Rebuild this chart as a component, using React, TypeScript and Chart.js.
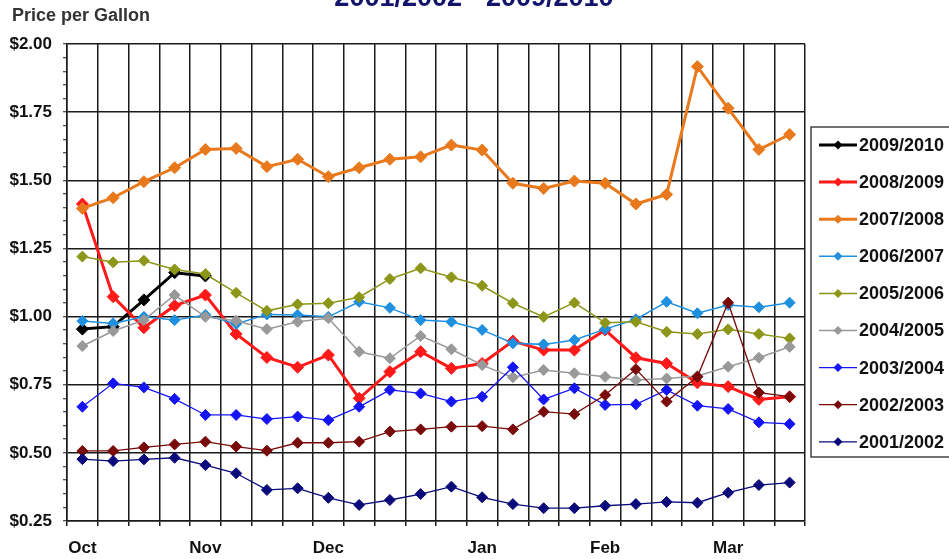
import React, { useEffect, useRef } from 'react';
import { Chart, registerables } from 'chart.js';

Chart.register(...registerables);

const weeks = ['Oct', '', '', '', 'Nov', '', '', '', 'Dec', '', '', '', '', 'Jan', '', '', '', 'Feb', '', '', '', 'Mar', '', ''];

const seriesNames = ['2009/2010', '2008/2009', '2007/2008', '2006/2007', '2005/2006', '2004/2005', '2003/2004', '2002/2003', '2001/2002'];

const s0910 = [0.954, 0.963, 1.061, 1.161, 1.149];
const s0809 = [1.413, 1.073, 0.959, 1.04, 1.079, 0.936, 0.85, 0.814, 0.859, 0.7, 0.798, 0.871, 0.81, 0.828, 0.91, 0.877, 0.877, 0.951, 0.849, 0.828, 0.757, 0.743, 0.696, 0.706];
const s0708 = [1.397, 1.436, 1.495, 1.546, 1.613, 1.617, 1.55, 1.577, 1.513, 1.546, 1.577, 1.586, 1.629, 1.611, 1.489, 1.47, 1.497, 1.489, 1.413, 1.448, 1.917, 1.764, 1.613, 1.668];
const s0607 = [0.984, 0.975, 0.999, 0.987, 1.006, 0.973, 1.008, 1.006, 0.999, 1.054, 1.032, 0.987, 0.981, 0.951, 0.902, 0.898, 0.914, 0.954, 0.99, 1.054, 1.012, 1.042, 1.034, 1.051];
const s0506 = [1.22, 1.199, 1.205, 1.173, 1.156, 1.087, 1.021, 1.045, 1.049, 1.071, 1.138, 1.177, 1.144, 1.113, 1.049, 0.999, 1.051, 0.977, 0.981, 0.944, 0.936, 0.953, 0.936, 0.92];
const s0405 = [0.892, 0.947, 0.987, 1.079, 0.999, 0.985, 0.954, 0.981, 0.994, 0.871, 0.847, 0.929, 0.88, 0.822, 0.777, 0.804, 0.792, 0.779, 0.767, 0.773, 0.782, 0.816, 0.849, 0.889];
const s0304 = [0.669, 0.755, 0.74, 0.698, 0.639, 0.639, 0.624, 0.633, 0.62, 0.669, 0.731, 0.718, 0.688, 0.706, 0.814, 0.696, 0.737, 0.676, 0.678, 0.731, 0.673, 0.661, 0.612, 0.606];
const s0203 = [0.507, 0.507, 0.52, 0.531, 0.541, 0.523, 0.508, 0.537, 0.537, 0.541, 0.578, 0.586, 0.596, 0.598, 0.586, 0.651, 0.642, 0.712, 0.807, 0.688, 0.779, 1.051, 0.721, 0.706];
const s0102 = [0.477, 0.47, 0.476, 0.482, 0.455, 0.425, 0.364, 0.37, 0.335, 0.309, 0.327, 0.349, 0.376, 0.337, 0.312, 0.297, 0.297, 0.306, 0.312, 0.32, 0.317, 0.354, 0.382, 0.391];

const seriesValues = [s0910, s0809, s0708, s0607, s0506, s0405, s0304, s0203, s0102];
const seriesColors = ['#000000', '#FF1A1A', '#E8791C', '#1F8FDF', '#8C9618', '#999999', '#1414F5', '#7A0A0A', '#0A0A7A'];
const seriesWidths = [3, 3, 3, 1.5, 1.5, 1.5, 1.3, 1.3, 1.3];

const yMin = 0.25;
const yMax = 2.0;
const yMinorStep = 0.05;

const titleText = '2001/2002 - 2009/2010';
const yAxisTitle = 'Price per Gallon';

const FONT = "'Liberation Sans', Arial, sans-serif";
const GRID = '#1a1a1a';

const isMajor = (v: number) => Math.abs(v * 4 - Math.round(v * 4)) < 1e-6;

const decorPlugin = {
  id: 'decor',
  afterDraw(chart: any) {
    const ctx = chart.ctx as CanvasRenderingContext2D;
    ctx.save();
    // title (cut off at top)
    ctx.fillStyle = '#14146E';
    ctx.font = `bold 27px ${FONT}`;
    ctx.textAlign = 'center';
    ctx.textBaseline = 'alphabetic';
    ctx.fillText(titleText, 474, 6);
    // axis title
    ctx.fillStyle = '#333333';
    ctx.font = `bold 18px ${FONT}`;
    ctx.textAlign = 'left';
    ctx.fillText(yAxisTitle, 12, 21);
    // legend
    ctx.strokeStyle = '#444444';
    ctx.lineWidth = 1.5;
    ctx.strokeRect(811, 127, 160, 330);
    seriesNames.forEach((name, i) => {
      const y = 145 + i * 37.1;
      ctx.strokeStyle = seriesColors[i];
      ctx.lineWidth = seriesWidths[i];
      ctx.beginPath();
      ctx.moveTo(819, y);
      ctx.lineTo(857, y);
      ctx.stroke();
      ctx.fillStyle = seriesColors[i];
      ctx.beginPath();
      ctx.moveTo(838, y - 4.5);
      ctx.lineTo(842.5, y);
      ctx.lineTo(838, y + 4.5);
      ctx.lineTo(833.5, y);
      ctx.closePath();
      ctx.fill();
      ctx.fillStyle = '#111111';
      ctx.font = `bold 18px ${FONT}`;
      ctx.textAlign = 'left';
      ctx.textBaseline = 'middle';
      ctx.fillText(name, 859, y + 1);
    });
    ctx.restore();
  },
};

export default function App() {
  const canvasRef = useRef<HTMLCanvasElement | null>(null);

  useEffect(() => {
    document.body.style.margin = '0';
    const canvas = canvasRef.current;
    if (!canvas) return;
    const n = seriesNames.length;
    const chart = new Chart(canvas, {
      type: 'line',
      data: {
        labels: weeks,
        datasets: seriesNames.map((name, i) => ({
          label: name,
          data: seriesValues[i],
          borderColor: seriesColors[i],
          backgroundColor: seriesColors[i],
          borderWidth: seriesWidths[i],
          pointStyle: 'rectRot',
          pointRadius: i < 3 ? 6 : 5.5,
          pointBorderWidth: 1,
          pointBackgroundColor: seriesColors[i],
          pointBorderColor: seriesColors[i],
          tension: 0,
          fill: false,
          order: n - 1 - i,
        })),
      },
      options: {
        animation: false,
        responsive: false,
        maintainAspectRatio: false,
        layout: { padding: { left: 0, top: 44, right: 144, bottom: 0 } },
        plugins: {
          legend: { display: false },
          title: { display: false },
          tooltip: { enabled: false },
        },
        scales: {
          x: {
            type: 'category',
            offset: true,
            afterFit: (s: any) => { s.height = 38; },
            grid: {
              offset: true,
              color: GRID,
              lineWidth: 1.5,
              tickLength: 5,
              tickColor: GRID,
            },
            border: { display: true, color: GRID, width: 1.5 },
            ticks: {
              autoSkip: false,
              maxRotation: 0,
              minRotation: 0,
              padding: 12,
              color: '#111111',
              font: { family: FONT, size: 17, weight: 'bold' },
            },
          },
          y: {
            min: yMin,
            max: yMax,
            afterFit: (s: any) => { s.width = 67; },
            grid: {
              color: (c: any) => (isMajor(c.tick.value) ? GRID : 'rgba(0,0,0,0)'),
              lineWidth: 1.5,
              tickLength: 4,
              tickColor: GRID,
              tickWidth: 1,
            },
            border: { display: true, color: GRID, width: 1.5 },
            ticks: {
              stepSize: yMinorStep,
              maxTicksLimit: 100,
              autoSkip: false,
              padding: 11,
              color: '#111111',
              font: { family: FONT, size: 17, weight: 'bold' },
              callback: (v: any) => (isMajor(Number(v)) ? '$' + Number(v).toFixed(2) : ''),
            },
          },
        },
      },
      plugins: [decorPlugin],
    } as any);
    return () => chart.destroy();
  }, []);

  return (
    <div style={{ position: 'fixed', left: 0, top: 0, width: 949, height: 559, background: '#ffffff' }}>
      <canvas ref={canvasRef} width={949} height={559} style={{ width: 949, height: 559, display: 'block' }} />
    </div>
  );
}
